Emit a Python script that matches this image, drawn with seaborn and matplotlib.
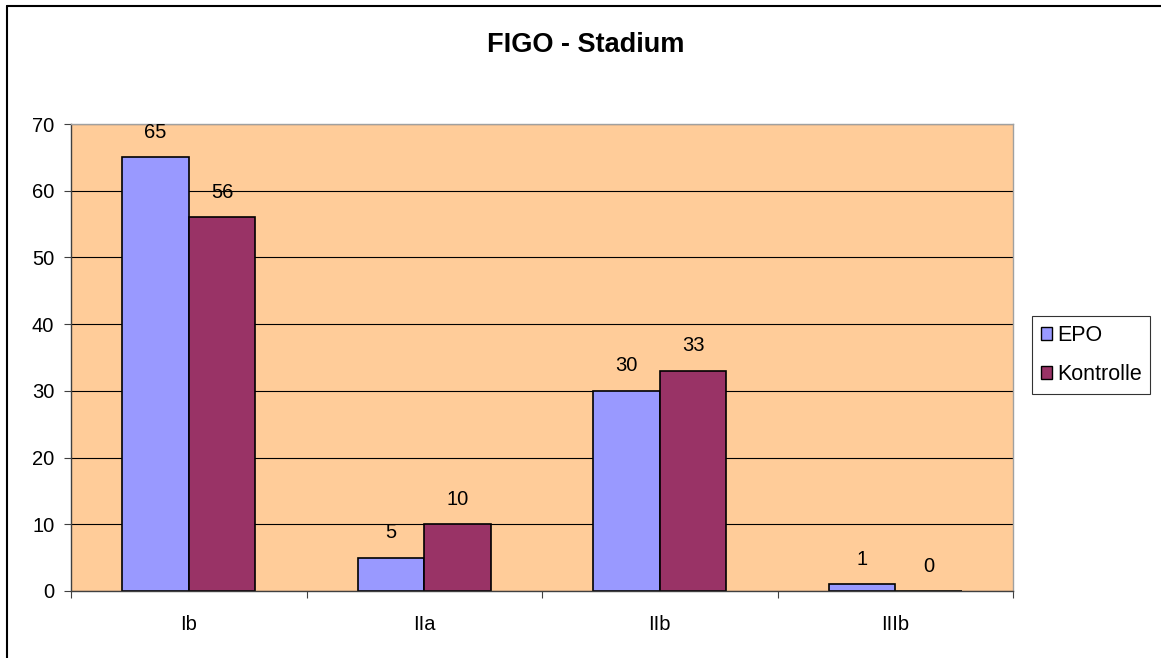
import matplotlib
matplotlib.use("Agg")
import matplotlib.pyplot as plt
import seaborn as sns
import pandas as pd
from matplotlib.lines import Line2D
from matplotlib.patches import Patch

# Data: FIGO stages, two groups
stages = ["Ib", "IIa", "IIb", "IIIb"]
epo = [65, 5, 30, 1]
kontrolle = [56, 10, 33, 0]
series_names = ["EPO", "Kontrolle"]
y_ticks = [0, 10, 20, 30, 40, 50, 60, 70]

df = pd.DataFrame({
    "Stadium": stages * 2,
    "Anzahl": epo + kontrolle,
    "Gruppe": [series_names[0]] * len(stages) + [series_names[1]] * len(stages),
})

sns.set_style("white", rc={"text.color": "black", "xtick.color": "black",
                           "ytick.color": "black", "axes.labelcolor": "black"})
plt.rcParams["font.family"] = ["Liberation Sans", "DejaVu Sans"]

colors = {"EPO": "#9999FF", "Kontrolle": "#993366"}
FS = 14.5

fig = plt.figure(figsize=(11.61, 6.58), dpi=100)
ax = fig.add_axes([71 / 1161, 1 - 591 / 658, (1013 - 71) / 1161, (591 - 124) / 658])
ax.set_facecolor("#FFCC99")

sns.barplot(data=df, x="Stadium", y="Anzahl", hue="Gruppe", order=stages,
            hue_order=series_names, palette=colors, width=0.566,
            edgecolor="black", linewidth=1.2, saturation=1, ax=ax, legend=False)

ax.set_xlim(-0.5, len(stages) - 0.5)
ax.set_ylim(0, 70)
ax.set_yticks(y_ticks)
ax.yaxis.grid(True, color="black", linewidth=0.8)
ax.set_axisbelow(True)
ax.set_xlabel("")
ax.set_ylabel("")

# value labels above each bar
for container in ax.containers:
    for bar in container:
        h = bar.get_height()
        ax.annotate(f"{h:.0f}", (bar.get_x() + bar.get_width() / 2, h),
                    xytext=(0, 18), textcoords="offset points",
                    ha="center", va="center", fontsize=FS, color="black")

# ticks: category labels centred, tick marks on category boundaries
ax.tick_params(axis="x", which="major", length=0, pad=17, labelsize=FS, labelcolor="black")
ax.set_xticks([i - 0.5 for i in range(len(stages) + 1)], minor=True)
ax.tick_params(axis="x", which="minor", length=5, width=0.8, color="#404040", direction="out", bottom=True)
ax.tick_params(axis="y", length=5, width=0.8, color="#404040", direction="out", left=True,
               labelsize=FS, labelcolor="black", pad=7)

for side in ["left", "bottom"]:
    ax.spines[side].set_color("#404040")
    ax.spines[side].set_linewidth(1.0)
for side in ["top", "right"]:
    ax.spines[side].set_color("#A0A0A0")
    ax.spines[side].set_linewidth(1.0)

fig.text(586 / 1161, 1 - 45 / 658, "FIGO - Stadium", color="black",
         ha="center", va="center", fontsize=19.5, fontweight="bold")

handles = [Patch(facecolor=colors[n], edgecolor="black", linewidth=1.0, label=n) for n in series_names]
leg = fig.legend(handles=handles, loc="center left", bbox_to_anchor=(1032 / 1161, 1 - 355 / 658),
                 fontsize=15.5, frameon=True, fancybox=False, edgecolor="black",
                 handlelength=0.55, handleheight=0.55, handletextpad=0.2,
                 labelspacing=0.85, borderpad=0.4, borderaxespad=0)
leg.get_frame().set_linewidth(0.8)
for t in leg.get_texts():
    t.set_color("black")

# figure frame on the left and top edges
fig.add_artist(Line2D([7 / 1161, 7 / 1161], [0, 1 - 6 / 658], transform=fig.transFigure,
                      color="black", linewidth=1.5))
fig.add_artist(Line2D([7 / 1161, 1], [1 - 6 / 658, 1 - 6 / 658], transform=fig.transFigure,
                      color="black", linewidth=1.5))

fig.savefig("out.png", dpi=100, facecolor="white")
